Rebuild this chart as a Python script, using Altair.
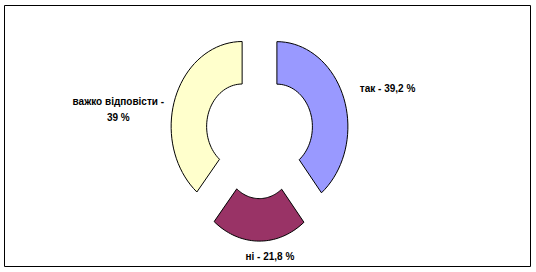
import altair as alt
import pandas as pd

# ---- data ----
categories = ["так", "ні", "важко відповісти"]
values = [39.2, 21.8, 39.0]
colors = ["#9999FF", "#993366", "#FFFFCC"]


def fmt(v):
    return f"{v:g}".replace(".", ",")


labels = []
for c, v in zip(categories, values):
    if len(c) > 10:
        labels.append(f"{c} -\n{fmt(v)} %")
    else:
        labels.append(f"{c} - {fmt(v)} %")

df = pd.DataFrame({"cat": categories, "value": values,
                   "idx": list(range(len(categories))), "label": labels})

# ---- geometry settings ----
N = 40          # segments per arc
HOLE = 0.5      # doughnut hole size
EXPLODE = 0.26  # explosion distance (in outer-radius units)
W, H = 526, 261
xscale = alt.Scale(domain=[-3.5986, 3.8099], nice=False, zero=False)
yscale = alt.Scale(domain=[-1.5529, 1.5176], nice=False, zero=False)

base = (
    alt.Chart(df)
    .transform_joinaggregate(total="sum(value)")
    .transform_window(cum="sum(value)", sort=[alt.SortField("idx")], frame=[None, 0])
    .transform_calculate(th0="(datum.cum - datum.value) / datum.total * 2 * PI")
    .transform_calculate(th1="datum.cum / datum.total * 2 * PI")
    .transform_calculate(mid="(datum.th0 + datum.th1) / 2")
)

slices = (
    base.transform_calculate(step=f"sequence(0, {2 * N + 3})")
    .transform_flatten(["step"])
    .transform_calculate(r=f"datum.step <= {N} ? 1 : (datum.step <= {2 * N + 1} ? {HOLE} : 1)")
    .transform_calculate(
        t=f"datum.step <= {N} ? datum.step / {N} : (datum.step <= {2 * N + 1} ? ({2 * N + 1} - datum.step) / {N} : 0)")
    .transform_calculate(th="datum.th0 + (datum.th1 - datum.th0) * datum.t")
    .transform_calculate(px=f"datum.r * sin(datum.th) + {EXPLODE} * sin(datum.mid)")
    .transform_calculate(py=f"datum.r * cos(datum.th) + {EXPLODE} * cos(datum.mid)")
    .mark_line(strokeWidth=1, stroke="black")
    .encode(
        x=alt.X("px:Q", scale=xscale, axis=None),
        y=alt.Y("py:Q", scale=yscale, axis=None),
        order=alt.Order("step:Q"),
        detail="cat:N",
        fill=alt.Fill("cat:N", scale=alt.Scale(domain=categories, range=colors), legend=None),
    )
)

lab_base = (
    base.transform_calculate(lx=f"(1 + {EXPLODE}) * sin(datum.mid)")
    .transform_calculate(ly=f"(1 + {EXPLODE}) * cos(datum.mid)")
)


def text_layer(cat, align, dx, dy):
    return (
        lab_base.transform_filter(alt.datum.cat == cat)
        .mark_text(align=align, baseline="middle", dx=dx, dy=dy, fontSize=10,
                   fontWeight="bold", font="Liberation Sans", color="black",
                   lineBreak="\n", lineHeight=16)
        .encode(
            x=alt.X("lx:Q", scale=xscale, axis=None),
            y=alt.Y("ly:Q", scale=yscale, axis=None),
            text="label:N",
        )
    )


chart = (
    alt.layer(
        slices,
        text_layer("так", "left", 16, -9),
        text_layer("ні", "center", 11, 16),
        text_layer("важко відповісти", "center", -57, 4),
    )
    .properties(width=W, height=H, padding={"left": 4, "top": 5, "right": 6, "bottom": 6},
                autosize=alt.AutoSizeParams(type="none"), background="white")
    .configure_view(stroke="black", strokeWidth=1)
)

chart.save("out.html", embed_options={"renderer": "svg", "actions": False})
